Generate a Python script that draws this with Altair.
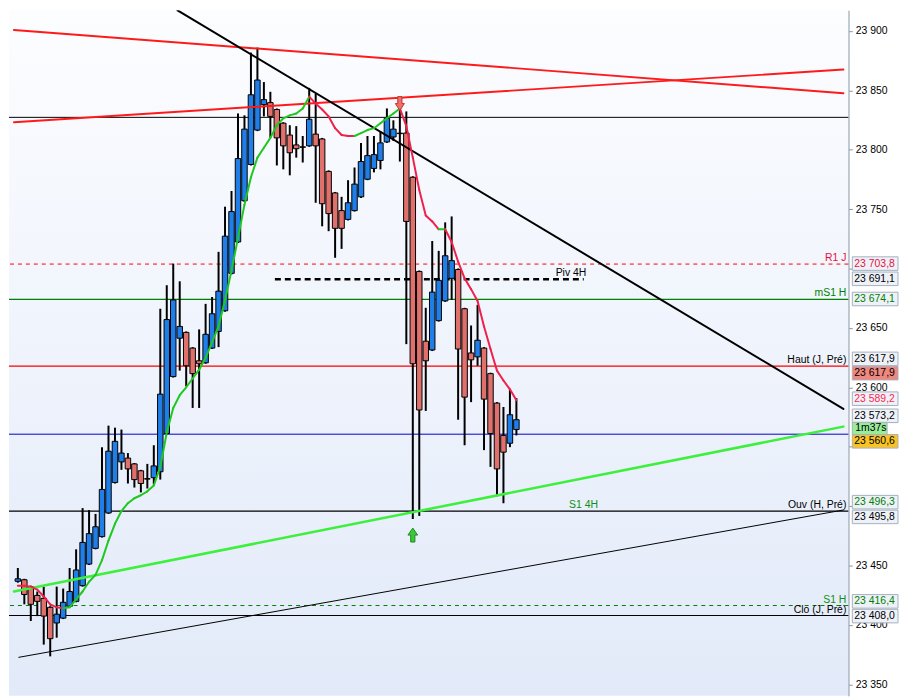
import altair as alt
import pandas as pd
import numpy as np

W, H = 845, 690
X_DOM = [-0.6, 127.5]
Y_DOM = [23340.5, 23917.4]
FONT = "Liberation Sans"
BLUE = "#1f7ee8"
PINK = "#e0706c"
MA_RED = "#f0204a"
MA_GREEN = "#1ec81e"

# ---- candles (OHLC) ----
opens = [
    23436.8, 23438.1, 23432.3, 23424.9, 23422.4, 23414.9, 23401.7, 23405.8, 23415.8, 23419.9,
    23433.1, 23451.3, 23464.5, 23474.4, 23494.3, 23519.9, 23537.3, 23540.5, 23535.6, 23529.8,
    23523.2, 23524.0, 23529.0, 23561.2, 23609.1, 23641.4, 23646.3, 23633.1, 23622.4, 23620.7,
    23633.1, 23647.1, 23664.5, 23696.0, 23722.4, 23757.1, 23787.6, 23816.6, 23838.0, 23839.7,
    23833.9, 23822.4, 23812.4, 23804.1, 23802.5, 23803.3, 23813.2, 23809.1, 23781.8, 23763.7,
    23748.8, 23741.4, 23748.8, 23760.4, 23775.2, 23784.3, 23791.0, 23806.6, 23810.8, 23814.0,
    23814.1, 23776.9, 23697.6, 23638.9, 23631.5, 23656.2, 23672.8, 23691.8, 23699.2, 23666.2,
    23629.0, 23625.7, 23633.1, 23611.6, 23586.8, 23559.6, 23553.0, 23564.5]
highs = [
    23448.0, 23438.9, 23433.1, 23428.2, 23432.3, 23415.8, 23432.3, 23430.7, 23448.0, 23463.7,
    23498.4, 23496.7, 23493.5, 23549.6, 23567.8, 23566.1, 23564.5, 23544.7, 23536.4, 23530.6,
    23535.6, 23551.3, 23666.2, 23686.0, 23704.2, 23689.3, 23647.1, 23633.9, 23648.8, 23670.3,
    23676.1, 23714.1, 23752.1, 23765.3, 23830.6, 23829.0, 23881.8, 23886.0, 23857.0, 23848.8,
    23834.8, 23823.2, 23820.7, 23819.9, 23811.6, 23852.1, 23847.1, 23810.0, 23782.7, 23764.5,
    23760.4, 23774.4, 23785.1, 23805.8, 23811.6, 23811.6, 23815.7, 23834.8, 23824.8, 23834.8,
    23832.3, 23777.7, 23698.4, 23667.0, 23723.2, 23714.9, 23738.9, 23743.9, 23700.1, 23667.0,
    23652.1, 23669.5, 23633.9, 23612.4, 23587.6, 23583.5, 23598.4, 23591.0]
lows = [
    23435.6, 23417.4, 23403.4, 23407.5, 23383.5, 23373.6, 23389.3, 23405.0, 23415.0, 23419.1,
    23432.3, 23450.5, 23463.7, 23473.6, 23493.5, 23519.1, 23530.6, 23519.1, 23515.7, 23511.6,
    23514.9, 23518.2, 23522.4, 23560.4, 23608.3, 23614.1, 23600.9, 23582.7, 23582.7, 23619.9,
    23632.3, 23633.9, 23663.7, 23695.1, 23721.5, 23756.2, 23786.8, 23815.7, 23828.1, 23810.0,
    23786.8, 23783.5, 23778.5, 23793.4, 23789.3, 23802.5, 23755.4, 23735.6, 23731.5, 23709.1,
    23716.6, 23740.5, 23748.0, 23759.5, 23774.4, 23781.0, 23783.5, 23805.8, 23807.5, 23790.1,
    23636.4, 23489.3, 23491.8, 23580.2, 23630.6, 23655.4, 23672.0, 23673.6, 23572.8, 23551.3,
    23587.6, 23618.2, 23547.2, 23533.1, 23508.3, 23502.5, 23549.7, 23559.6]
closes = [
    23438.9, 23425.7, 23417.4, 23419.9, 23407.5, 23388.5, 23409.1, 23419.1, 23428.2, 23446.3,
    23469.5, 23476.9, 23482.7, 23514.1, 23546.3, 23554.6, 23544.7, 23531.4, 23522.4, 23519.1,
    23522.8, 23533.9, 23594.3, 23657.1, 23673.6, 23651.3, 23618.2, 23611.6, 23619.9, 23644.7,
    23662.0, 23681.0, 23727.3, 23748.0, 23792.6, 23817.4, 23846.3, 23858.7, 23842.2, 23828.1,
    23810.0, 23803.3, 23797.5, 23800.9, 23802.1, 23825.7, 23803.3, 23754.6, 23746.3, 23733.9,
    23733.9, 23755.4, 23771.1, 23790.1, 23795.1, 23795.9, 23805.8, 23826.5, 23817.4, 23813.6,
    23739.7, 23619.9, 23581.0, 23622.4, 23680.2, 23690.1, 23710.8, 23706.7, 23632.3, 23591.8,
    23623.2, 23639.7, 23590.1, 23561.2, 23531.4, 23545.5, 23577.0, 23572.8]

# ---- moving average ----
ma = [
    23433.1, 23433.1, 23432.3, 23429.8, 23424.0, 23417.4, 23414.9, 23414.1, 23414.9, 23421.6,
    23428.2, 23436.4, 23442.2, 23454.6, 23471.1, 23485.2, 23495.9, 23502.5, 23506.7, 23509.2,
    23512.5, 23517.4, 23533.1, 23562.0, 23582.7, 23593.4, 23600.1, 23607.5, 23614.9, 23624.9,
    23638.1, 23651.3, 23673.6, 23698.4, 23725.7, 23753.8, 23776.9, 23793.4, 23801.7, 23810.0,
    23820.7, 23826.5, 23829.0, 23830.6, 23834.8, 23844.7, 23838.9, 23833.9, 23828.1, 23818.2,
    23812.4, 23811.6, 23811.6, 23814.1, 23816.6, 23818.2, 23822.4, 23826.5, 23830.6, 23834.8,
    23819.9, 23793.4, 23766.2, 23744.7, 23739.7, 23733.1, 23733.1, 23722.4, 23705.8, 23691.8,
    23682.7, 23672.8, 23651.3, 23632.3, 23614.1, 23605.8, 23598.4, 23589.2]
ma_runs = [(MA_RED, 7), (MA_GREEN, 38), (MA_RED, 7), (MA_GREEN, 7), (MA_RED, 6), (MA_GREEN, 1), (MA_RED, 11)]

# ---- horizontal levels ----
hl_price = [23827.3, 23703.8, 23674.1, 23617.9, 23560.6, 23495.8, 23416.4, 23408.0]
hl_color = ["#000000", "#ff0000", "#008000", "#ff0000", "#0000c8", "#000000", "#008000", "#000000"]
hl_width = [1, 1, 1.2, 1.5, 1, 1.2, 1, 1.2]
hl_dashed = [False, True, False, False, False, False, True, False]

piv_price = 23691.1
piv_from, piv_to = 39.7, 87.4

# ---- trend lines ----
tl_x1 = [-0.6, -0.6, 24.66, -0.6, 0.15]
tl_x2 = [127.5, 127.5, 127.5, 127.5, 127.5]
tl_y1 = [23900.9, 23823.2, 23917.4, 23428.2, 23372.8]
tl_y2 = [23847.6, 23867.5, 23581.9, 23567.0, 23496.8]
tl_color = ["#ff1a1a", "#ff1a1a", "#000000", "#3cf03c", "#000000"]
tl_width = [2, 2, 2, 2.5, 1]

# ---- in-plot labels ----
lbl_text = ["R1 J", "mS1 H", "Haut (J, Pré)", "Ouv (H, Pré)", "S1 H", "Clo (J, Pré)"]
lbl_price = [23703.8, 23674.1, 23617.9, 23495.8, 23416.4, 23408.0]
lbl_color = ["#e8103a", "#008000", "#000000", "#000000", "#109010", "#000000"]

mid_text = ["Piv 4H", "S1 4H"]
mid_x = [87.8, 89.6]
mid_price = [23691.1, 23496.3]
mid_color = ["#000000", "#109010"]

# ---- axis ticks (labels hidden behind value boxes in the original) ----
tick_values = list(range(23350, 23901, 50))
hidden_ticks = [23500, 23550, 23700]

# ---- axis value boxes ----
box_value = [23703.8, 23691.1, 23674.1, 23617.9, 23617.9, 23589.2, 23573.2, 23560.6,
             23496.3, 23495.8, 23416.4, 23408.0]
box_pos = [23704.2, 23691.4, 23674.4, 23624.0, 23612.0, 23590.5, 23576.1, 23554.6,
           23503.4, 23491.0, 23419.9, 23407.5]
box_fill = ["#eef2f8", "#eef2f8", "#eef2f8", "#eef2f8", "#f0877e", "#eef2f8", "#eef2f8", "#f8c425",
            "#eef2f8", "#eef2f8", "#eef2f8", "#eef2f8"]
box_tcol = ["#e8103a", "#000000", "#008000", "#000000", "#000000", "#ff1f4f", "#000000", "#000000",
            "#008000", "#000000", "#008000", "#000000"]
timer_text = "1m37s"
timer_pos = 23565.4

# ---- signal arrows ----
arrow_i = [59, 61]
arrow_p = [23838.9, 23475.7]

# ================= build =================
xs = alt.Scale(domain=X_DOM, nice=False, zero=False)
ys = alt.Scale(domain=Y_DOM, nice=False, zero=False)
hidden_js = "[" + ",".join(str(v) for v in hidden_ticks) + "]"
yaxis = alt.Axis(orient="right", values=tick_values,
                 labelExpr="indexof(" + hidden_js + ", datum.value) >= 0 ? '' : "
                           "replace(format(datum.value, ','), ',', ' ')",
                 tickSize=4, tickColor="#8a96a6", domainColor="#9aa6b4", domainWidth=1.5,
                 labelFont=FONT, labelFontSize=10.5, labelColor="#000000", labelPadding=3,
                 grid=False, title=None, labelOverlap=False)


def X(f):
    return alt.X(f, type="quantitative", scale=xs, axis=None)


def Y(f):
    return alt.Y(f, type="quantitative", scale=ys, axis=yaxis, title=None)


def fmt(v):
    return f"{v:,.1f}".replace(",", " ").replace(".", ",")


n = len(opens)
cdf = pd.DataFrame({"i": range(n), "o": opens, "h": highs, "l": lows, "c": closes})
cdf["col"] = np.where(cdf.c > cdf.o, BLUE, PINK)

seg_cols = []
for c, k in ma_runs:
    seg_cols += [c] * k
seg = pd.DataFrame({"i": list(range(n - 1)), "i2": list(range(1, n)),
                    "p": ma[:-1], "p2": ma[1:], "col": seg_cols})

hdf = pd.DataFrame({"p": hl_price, "col": hl_color, "w": hl_width, "d": hl_dashed})
tdf = pd.DataFrame({"i": tl_x1, "i2": tl_x2, "p": tl_y1, "p2": tl_y2, "col": tl_color, "w": tl_width})
ldf = pd.DataFrame({"t": lbl_text, "p": lbl_price, "col": lbl_color})
mdf = pd.DataFrame({"t": mid_text, "i": mid_x, "p": mid_price, "col": mid_color})
bdf = pd.DataFrame({"t": [fmt(v) for v in box_value], "p": box_pos, "fill": box_fill, "tc": box_tcol})
bdf["lo"] = bdf.p - 5.7
bdf["hi"] = bdf.p + 5.7
tmdf = pd.DataFrame({"t": [timer_text], "p": [timer_pos], "lo": [timer_pos - 5.2], "hi": [timer_pos + 5.2]})

one = pd.DataFrame({"z": [0]})
bg = alt.Chart(one).mark_rect(
    color=alt.Gradient(gradient="linear",
                       stops=[alt.GradientStop(color="#fcfdff", offset=0),
                              alt.GradientStop(color="#e2eaf9", offset=1)],
                       x1=0, x2=0, y1=0, y2=1)
).encode(x=alt.value(0), x2=alt.value(W), y=alt.value(0), y2=alt.value(H))

h_solid = alt.Chart(hdf[~hdf.d]).mark_rule().encode(
    y=Y("p"), color=alt.Color("col:N", scale=None), strokeWidth=alt.StrokeWidth("w:Q", scale=None))
h_dash = alt.Chart(hdf[hdf.d]).mark_rule(strokeDash=[4, 4]).encode(
    y=Y("p"), color=alt.Color("col:N", scale=None), strokeWidth=alt.StrokeWidth("w:Q", scale=None))
piv = alt.Chart(pd.DataFrame({"i": [piv_from], "i2": [piv_to], "p": [piv_price]})).mark_rule(
    strokeDash=[6, 4], strokeWidth=2.5, color="#000000").encode(x=X("i"), x2="i2:Q", y=Y("p"))

wicks = alt.Chart(cdf).mark_rule(strokeWidth=2, color="#000000").encode(
    x=X("i"), y=Y("l"), y2="h:Q")
bodies = alt.Chart(cdf).mark_bar(width=5.5, stroke="#000000", strokeWidth=1).encode(
    x=X("i"), y=Y("o"), y2="c:Q", color=alt.Color("col:N", scale=None))

trend = alt.Chart(tdf).mark_rule(clip=True, strokeCap="round").encode(
    x=X("i"), x2="i2:Q", y=Y("p"), y2="p2:Q",
    color=alt.Color("col:N", scale=None), strokeWidth=alt.StrokeWidth("w:Q", scale=None))

ma_line = alt.Chart(seg).mark_rule(strokeWidth=2, strokeCap="round").encode(
    x=X("i"), x2="i2:Q", y=Y("p"), y2="p2:Q", color=alt.Color("col:N", scale=None))

down_path = "M-0.3,-1L0.3,-1L0.3,0L0.65,0L0,1L-0.65,0L-0.3,0Z"
up_path = "M-0.3,1L0.3,1L0.3,0L0.7,0L0,-1L-0.7,0L-0.3,0Z"
arr_dn = alt.Chart(pd.DataFrame({"i": [arrow_i[0]], "p": [arrow_p[0]]})).mark_point(
    shape=down_path, filled=True, size=196, fill="#f07068", stroke="#c03030", strokeWidth=1,
    opacity=1).encode(x=X("i"), y=Y("p"))
arr_up = alt.Chart(pd.DataFrame({"i": [arrow_i[1]], "p": [arrow_p[1]]})).mark_point(
    shape=up_path, filled=True, size=196, fill="#3cc83c", stroke="#1c8a1c", strokeWidth=1,
    opacity=1).encode(x=X("i"), y=Y("p"))

lbls = alt.Chart(ldf).mark_text(align="right", baseline="bottom", dy=-1, font=FONT, fontSize=10.5).encode(
    x=alt.value(W - 2), y=Y("p"), text="t:N", color=alt.Color("col:N", scale=None))
mids = alt.Chart(mdf).mark_text(align="right", baseline="bottom", dy=-1, font=FONT, fontSize=10.5).encode(
    x=X("i"), y=Y("p"), text="t:N", color=alt.Color("col:N", scale=None))

boxes = alt.Chart(bdf).mark_rect(stroke="#a4b0c0", strokeWidth=1).encode(
    x=alt.value(W + 4), x2=alt.value(W + 50), y=Y("lo"), y2="hi:Q",
    color=alt.Color("fill:N", scale=None))
box_txt = alt.Chart(bdf).mark_text(align="left", baseline="middle", font=FONT, fontSize=10.5).encode(
    x=alt.value(W + 6), y=Y("p"), text="t:N", color=alt.Color("tc:N", scale=None))
timer_box = alt.Chart(tmdf).mark_rect(stroke="#a4b0c0", strokeWidth=1, color="#98ee98").encode(
    x=alt.value(W + 4), x2=alt.value(W + 39), y=Y("lo"), y2="hi:Q")
timer_txt = alt.Chart(tmdf).mark_text(align="left", baseline="middle", font=FONT, fontSize=10.5,
                                      color="#000000").encode(
    x=alt.value(W + 7), y=Y("p"), text="t:N")

chart = alt.layer(
    bg, h_solid, h_dash, piv, wicks, bodies, trend, ma_line, arr_dn, arr_up,
    lbls, mids, boxes, box_txt, timer_box, timer_txt
).properties(width=W, height=H, padding=0).configure_view(stroke=None)

chart.save("out.html", embed_options={"renderer": "svg", "actions": False})
